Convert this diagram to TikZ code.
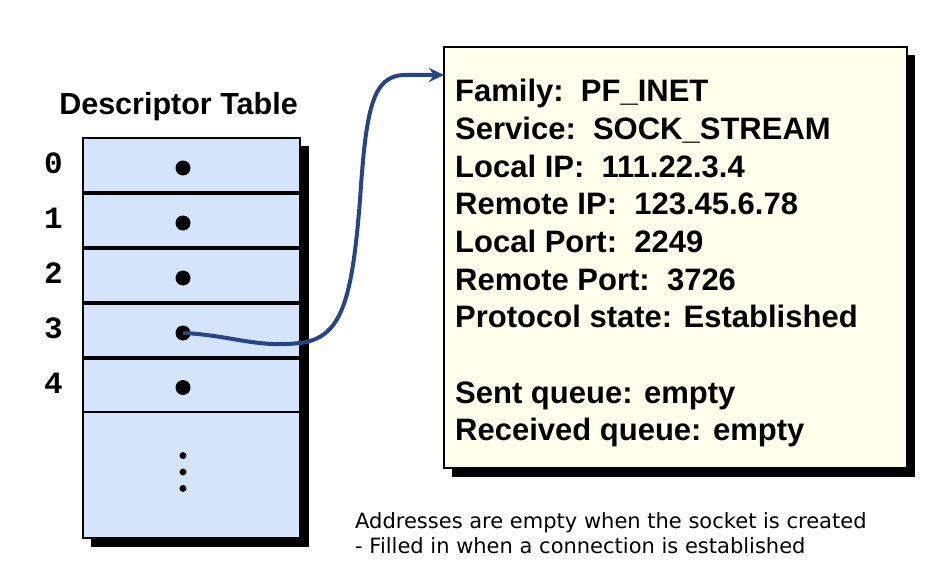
\documentclass[tikz,border=0pt]{standalone}
\usepackage{fontspec}
\setmainfont{Liberation Sans}
\newfontfamily\notefont{DejaVu Sans}
\newfontfamily\digitfont{Liberation Mono}
\usetikzlibrary{positioning}
\usetikzlibrary{arrows.meta}
\usetikzlibrary{calc}
\definecolor{slotblue}{RGB}{212,228,251}
\definecolor{cream}{RGB}{255,255,236}
\definecolor{linkblue}{RGB}{38,68,138}
\tikzset{slot/.style={rectangle,draw,line width=2.5pt,fill=slotblue,minimum width=217pt,minimum height=55pt,inner sep=0pt,outer sep=0pt},
ptr/.style={circle,fill=black,minimum size=15pt,inner sep=0pt},
dot/.style={circle,fill=black,minimum size=7pt,inner sep=0pt},
idx/.style={font=\digitfont\bfseries\fontsize{31}{31}\selectfont,inner sep=0pt},}

\begin{document}
\begin{tikzpicture}[x=1pt, y=-1pt]
		\useasboundingbox (0,0) rectangle (929,588);
		% shadows
		\fill[black] (91,146) rectangle (309,547);
		\fill[black] (452,55) rectangle (915,477);

		\node[slot] (r0) at (191.5,165.5) {};
	    \node[slot] (r1) [below = 0pt of r0] {};
	    \node[slot] (r2) [below = 0pt of r1] {};
	    \node[slot] (r3) [below = 0pt of r2] {};
	    \node[slot, minimum height=54pt] (r4) [below = 0pt of r3] {};
	    \node[slot, minimum height=126pt] (rdots) [below = 0pt of r4] {};
	    \draw[line width=4.5pt] (r0.south west) -- (r0.south east);
	    \draw[line width=4.5pt] (r1.south west) -- (r1.south east);
	    \draw[line width=4.5pt] (r2.south west) -- (r2.south east);
	    \draw[line width=4.5pt] (r3.south west) -- (r3.south east);

	    \node[ptr, xshift=-8.5pt, yshift=-2.5pt] (p0) at (r0) {};
	    \node[ptr, xshift=-8.5pt, yshift=-2.5pt] (p1) at (r1) {};
	    \node[ptr, xshift=-8.5pt, yshift=-2.5pt] (p2) at (r2) {};
	    \node[ptr, xshift=-8.5pt, yshift=-2.5pt] (p3) at (r3) {};
	    \node[ptr, xshift=-8.5pt, yshift=-2.5pt] (p4) at (r4) {};
	    \node[dot] (d2) at (183,472) {};
	    \node[dot] (d1) [above = 9pt of d2] {};
	    \node[dot] (d3) [below = 9pt of d2] {};

	    \node[idx, yshift=2pt] (i0) [left = 20pt of r0] {0};
	    \node[idx, yshift=2pt] (i1) [left = 20pt of r1] {1};
	    \node[idx, yshift=2pt] (i2) [left = 20pt of r2] {2};
	    \node[idx, yshift=2pt] (i3) [left = 20pt of r3] {3};
	    \node[idx, yshift=2pt] (i4) [left = 20pt of r4] {4};
	    \node[font=\bfseries\fontsize{30.5}{30.5}\selectfont, inner sep=0pt] (title) [above = 17pt of r0, xshift=-13pt] {Descriptor Table};

	    \node[draw, line width=2pt, fill=cream, anchor=north west, minimum width=463pt, minimum height=421pt, outer sep=0pt] (sock) at (444,47) {};
	    \node[anchor=north west, align=left, inner sep=0pt, font=\bfseries\fontsize{31}{37.7}\selectfont] (fields) at (455,79)
	    {Family:\ \ PF\_INET\\ Service:\ \ SOCK\_STREAM\\ Local IP:\ \ 111.22.3.4\\ Remote IP:\ \ 123.45.6.78\\ Local Port:\ \ 2249\\ Remote Port:\ \ 3726\\ Protocol state: Established\\[37.7pt] Sent queue: empty\\ Received queue: empty};
	    \coordinate (entry) at ([yshift=-28pt]sock.north west);

	    \draw[linkblue, line width=4pt, -{Stealth[length=15pt,width=14pt]}]
	    (p3.center) .. controls (230,335) and (255,348) .. (300,343)
	    .. controls (342,338) and (352,300) .. (360,200)
	    .. controls (366,110) and (372,75) .. (405,75) -- (entry);

	    \node[anchor=north west, align=left, inner sep=0pt, font=\notefont\fontsize{21}{25}\selectfont] (note) at (355,512)
	    {Addresses are empty when the socket is created\\ - Filled in when a connection is established};
	\end{tikzpicture}
\end{document}
